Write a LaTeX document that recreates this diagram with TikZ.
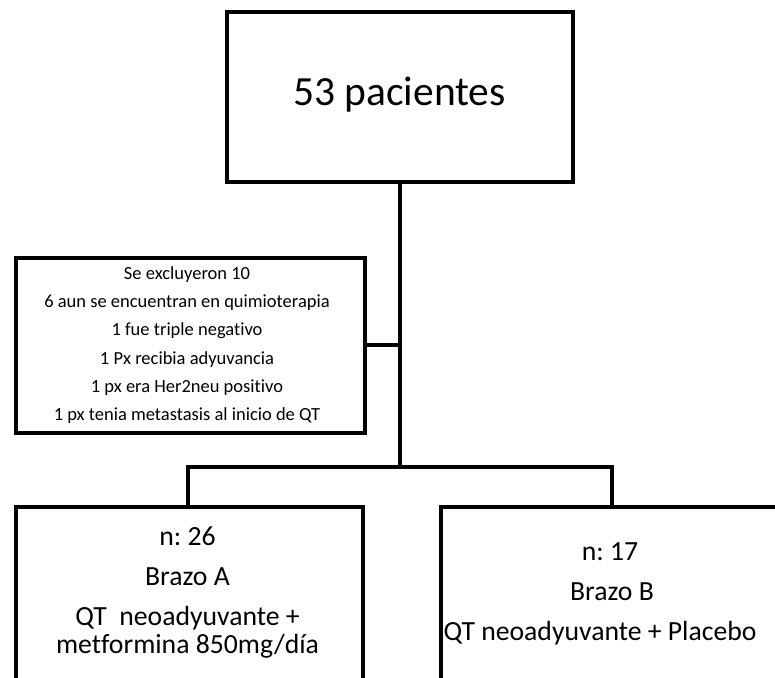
\documentclass[tikz,border=0pt]{standalone}
\usepackage{fontspec}
\setmainfont{Carlito}[Ligatures=NoCommon]
\frenchspacing
\begin{document}
\begin{tikzpicture}[x=1pt,y=-1pt,
  box/.style={draw=black,line width=4.2pt,rectangle,anchor=north west,inner sep=0pt},
  conn/.style={draw=black,line width=4.2pt},
  big/.style={font=\fontsize{41.5}{49}\selectfont,anchor=base,inner sep=0pt},
  small/.style={font=\fontsize{18.5}{22}\selectfont,anchor=base,inner sep=0pt},
  mid/.style={font=\fontsize{27.7}{33}\selectfont,anchor=base,inner sep=0pt}]
\useasboundingbox (0,0) rectangle (775,677);
\clip (0,0) rectangle (775,677);
% boxes
\node[box,minimum width=346pt,minimum height=170pt] (top) at (225,10) {};
\node[box,minimum width=349pt,minimum height=175pt] (excl) at (14,256) {};
\node[box,minimum width=347pt,minimum height=176pt] (armA) at (14,505) {};
\node[box,minimum width=346pt,minimum height=176pt] (armB) at (439,505) {};
% junction coordinates
\coordinate (stemA) at (400,345);
\coordinate (split) at (400,467);
\coordinate (la) at (188,467);
\coordinate (lb) at (612,467);
% connectors
\draw[conn] (top.south -| split) -- (split);
\draw[conn] (excl.east |- stemA) -- (stemA);
\draw[conn,line join=miter] (armA.north -| la) -- (la) -- (lb) -- (armB.north -| lb);
% texts
\node[big] (t53) at (399.5,105) {53 pacientes};
\node[small] (e1) at (187,279) {Se excluyeron 10};
\node[small] (e2) at (187,307.5) {6 aun se encuentran en quimioterapia};
\node[small] (e3) at (187,335.7) {1 fue triple negativo};
\node[small] (e4) at (187,364) {1 Px recibia adyuvancia};
\node[small] (e5) at (187,392) {1 px era Her2neu positivo};
\node[small] (e6) at (187,420) {1 px tenia metastasis al inicio de QT};
\node[mid] (a1) at (187.5,545) {n: 26};
\node[mid] (a2) at (187.5,585) {Brazo A};
\node[mid] (a3) at (187.5,625) {QT\ \ neoadyuvante +};
\node[mid] (a4) at (187.5,653) {metformina 850mg/día};
\node[mid] (b1) at (610,560) {n: 17};
\node[mid] (b2) at (612,600) {Brazo B};
\node[mid] (b3) at (600,640) {QT neoadyuvante + Placebo};
\end{tikzpicture}
\end{document}
